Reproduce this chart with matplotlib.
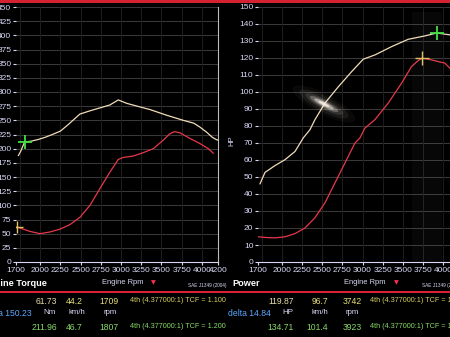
import matplotlib
matplotlib.use("Agg")
import matplotlib.pyplot as plt
from matplotlib.patches import Ellipse, Rectangle

# torque panel (Nm vs engine rpm)
tq_rpm_a = [1730, 1760, 1807, 1880, 1970, 2060, 2150, 2250, 2350, 2490, 2620, 2740,
            2860, 2966, 3070, 3200, 3358, 3565, 3770, 3900, 3977, 4060, 4130, 4180, 4200]
tq_nm_a = [188, 196, 212, 213, 216, 220, 225, 231, 243, 261, 267, 272,
           277, 286, 280, 275, 269, 259, 250, 245, 238, 229, 220, 216, 215]
tq_rpm_b = [1709, 1750, 1873, 1997, 2121, 2245, 2368, 2492, 2616, 2740, 2864, 2966,
            3027, 3151, 3275, 3399, 3523, 3600, 3660, 3729, 3853, 3977, 4080, 4142]
tq_nm_b = [61.7, 60, 54, 50, 53, 58, 66, 79, 100, 130, 159, 181,
           184.5, 187, 193, 200, 215, 226, 230, 228, 218, 209, 200, 192]

# power panel (HP vs engine rpm)
hp_rpm_a = [1725, 1787, 1911, 2036, 2160, 2263, 2346, 2408, 2533, 2698, 2865, 3009,
            3154, 3362, 3568, 3776, 3923, 4000, 4087]
hp_a = [46, 52.7, 56.7, 60.2, 65, 73, 77.8, 83.7, 93.5, 103, 112, 119.3,
        121.8, 126.7, 131, 133, 134.7, 134.2, 133.6]
hp_rpm_b = [1705, 1800, 1911, 2036, 2160, 2284, 2408, 2533, 2657, 2781, 2906, 2968,
            3030, 3154, 3320, 3486, 3610, 3693, 3742, 3850, 3941, 4024, 4087]
hp_b = [14.8, 14.4, 14.2, 14.8, 16.7, 20, 26, 34.8, 46.5, 58.2, 70, 73,
        78.8, 83.7, 93.5, 105.2, 115, 118.5, 119.9, 119, 117.9, 117, 114]

# cursor readouts
cur_tq = [(1709, 61.73), (1807, 211.96)]
cur_hp = [(3742, 119.87), (3923, 134.71)]

x_ticks = [1700, 2000, 2250, 2500, 2750, 3000, 3250, 3500, 3750, 4000, 4200]

BG = "black"
TICK = "#d8d8f6"
GRID = "#3a3a3a"
VGRID = "#1e1e1e"
TAN = "#f2dcb8"
RED = "#e8384a"
GREEN = "#40e040"
YEL = "#e0c060"
C1 = ("#e8dca8", "#e6e07a", "#d8cc60")
C3 = ("#86d868", "#86d868", "#86d868")

plt.rcParams["font.family"] = ["Liberation Sans", "DejaVu Sans"]

fig = plt.figure(figsize=(4.5, 3.37), dpi=100, facecolor=BG)
W, H = 450.0, 337.0


def px(x, y):
    return x / W, 1 - y / H


def style_axes(ax, ymax, ystep):
    ax.set_facecolor(BG)
    ax.set_xlim(1700, 4200)
    ax.set_ylim(0, ymax)
    ax.set_xticks(x_ticks)
    ax.set_yticks(range(0, ymax + 1, ystep))
    ax.tick_params(colors=TICK, labelsize=6, length=2.5, width=0.8, pad=0.8)
    for v in range(ystep, ymax + 1, ystep):
        ax.axhline(v, color=GRID, lw=0.7, zorder=0)
    for v in range(1750, 4200, 250):
        ax.axvline(v, color=VGRID, lw=0.7, zorder=0)
    for s in ["top", "left"]:
        ax.spines[s].set_visible(False)
    ax.spines["bottom"].set_color(TICK)
    ax.spines["right"].set_color("#bdbdbd")


# left: torque
ax1 = fig.add_axes([16 / W, 1 - 262 / H, 202 / W, 255 / H])
style_axes(ax1, 450, 25)
ax1.plot(tq_rpm_a, tq_nm_a, color=TAN, lw=0.9)
ax1.plot(tq_rpm_b, tq_nm_b, color=RED, lw=0.9)
ax1.plot(*cur_tq[0], marker="+", color=YEL, ms=8, mew=1.0)
ax1.plot(*cur_tq[1], marker="+", color=GREEN, ms=10, mew=1.3)

# right: power
ax2 = fig.add_axes([258 / W, 1 - 262 / H, 201 / W, 255 / H])
style_axes(ax2, 150, 10)
ax2.plot(hp_rpm_a, hp_a, color=TAN, lw=0.9)
ax2.plot(hp_rpm_b, hp_b, color=RED, lw=0.9)
ax2.plot(*cur_hp[0], marker="+", color=YEL, ms=10, mew=1.0)
ax2.plot(*cur_hp[1], marker="+", color=GREEN, ms=10, mew=1.3)
fig.text(*px(232, 141), "HP", color=TICK, fontsize=5.5, rotation=90, ha="center", va="center")

# screen glare, soft with bright core
for w, h, a in [(0.7, 0.2, 0.04), (0.55, 0.15, 0.07), (0.42, 0.1, 0.12),
                (0.32, 0.07, 0.25), (0.22, 0.045, 0.5), (0.12, 0.025, 0.8)]:
    fig.patches.append(Ellipse((3.24, 3.37 - 1.04), w, h, angle=-28, color="#fff4e8", alpha=a,
                               lw=0, transform=fig.dpi_scale_trans))
fig.patches.append(Rectangle(px(412, 262), 30 / W, 250 / H, color="white", alpha=0.03,
                             lw=0, transform=fig.transFigure))

# top red band and separator line
fig.patches.append(Rectangle((0, 1 - 3 / H), 1, 3 / H, color="#d42232", lw=0,
                             transform=fig.transFigure))
fig.add_artist(plt.Line2D([0, 1], [1 - 291.5 / H] * 2, color="#e02236", lw=1.4,
                          transform=fig.transFigure))


def txt(x, y, s, col, size, ha="left", **kw):
    fig.text(*px(x, y), s, color=col, fontsize=size, ha=ha, va="center", **kw)


# readout under torque panel
txt(47, 283, "Engine Torque", "white", 6.6, ha="right", fontweight="bold")
txt(102, 283, "Engine Rpm", TICK, 5.4)
txt(153, 283, "\u25bc", "#ff3050", 4.5, ha="center", family="DejaVu Sans")
txt(188, 285, "SAE J1349 (2004)", TICK, 3.4)
txt(57, 301, "61.73", C1[0], 6.2, ha="right")
txt(83, 301, "44.2", C1[1], 6.2, ha="right")
txt(119, 301, "1709", C1[1], 6.2, ha="right")
txt(130, 301, "4th (4.377000:1) TCF = 1.100", C1[2], 5.2)
txt(32, 313, "delta 150.23", "#5aa8ff", 6.2, ha="right")
txt(50, 313, "Nm", TICK, 5.8, ha="center")
txt(77, 313, "km/h", TICK, 5.6, ha="center")
txt(110, 313, "rpm", TICK, 5.6, ha="center")
txt(57, 327, "211.96", C3[0], 6.2, ha="right")
txt(83, 327, "46.7", C3[1], 6.2, ha="right")
txt(119, 327, "1807", C3[1], 6.2, ha="right")
txt(130, 327, "4th (4.377000:1) TCF = 1.200", C3[2], 5.2)

# readout under power panel
txt(232, 283, "Power", "white", 6.6, fontweight="bold")
txt(344, 283, "Engine Rpm", TICK, 5.4)
txt(396, 283, "\u25bc", "#ff3050", 4.5, ha="center", family="DejaVu Sans")
txt(422, 285, "SAE J1349 (2004)", TICK, 3.4)
txt(294, 301, "119.87", C1[0], 6.2, ha="right")
txt(328, 301, "96.7", C1[1], 6.2, ha="right")
txt(362, 301, "3742", C1[1], 6.2, ha="right")
txt(370, 301, "4th (4.377000:1) TCF = 1.100", C1[2], 5.2)
txt(271, 313, "delta 14.84", "#5aa8ff", 6.2, ha="right")
txt(288, 313, "HP", TICK, 5.8, ha="center")
txt(320, 313, "km/h", TICK, 5.6, ha="center")
txt(352, 313, "rpm", TICK, 5.6, ha="center")
txt(294, 327, "134.71", C3[0], 6.2, ha="right")
txt(328, 327, "101.4", C3[1], 6.2, ha="right")
txt(362, 327, "3923", C3[1], 6.2, ha="right")
txt(370, 327, "4th (4.377000:1) TCF = 1.200", C3[2], 5.2)

fig.savefig("out.png", dpi=100, facecolor=BG)
